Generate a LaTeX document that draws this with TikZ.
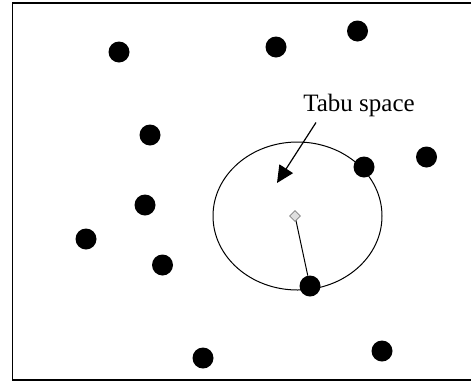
\documentclass[tikz,border=0pt]{standalone}
\usepackage{fontspec}
\setmainfont{Liberation Serif}
\usetikzlibrary{arrows.meta,shapes.geometric}

\begin{document}
\begin{tikzpicture}[x=1pt, y=-1pt,
  dot/.style={circle,fill=black,inner sep=0pt,minimum size=21pt},
  centre/.style={diamond,draw=gray,fill=gray!25,inner sep=0pt,minimum size=11pt,line width=0.8pt}]
  \useasboundingbox (0,0) rectangle (471,381);

  % frame (open on the right)
  \draw[line width=1.6pt] (471,3) -- (12.5,3) -- (12.5,380) -- (471,380);

  % solutions
  \foreach \n/\p in {1/{(119,52)},2/{(276,47)},3/{(357.5,31)},4/{(150,135)},
                     5/{(426.5,157)},6/{(364,167)},7/{(145,205)},8/{(86,239)},
                     9/{(162.5,265)},10/{(310,286)},11/{(203,358)},12/{(382,351)}}
    \node[dot] (d\n) at \p {};

  % tabu region around the current solution
  \draw[line width=1pt] (297.5,216) ellipse [x radius=84.5, y radius=74];
  \draw[line width=1pt] (295,216) -- (d10);
  \node[centre] (cur) at (295,216) {};

  % label
  \node[anchor=base,inner sep=0pt,font=\fontsize{25}{30}\selectfont] (lbl) at (359,111.5) {Tabu space};
  \coordinate (tail) at (316,122.5);
  \coordinate (tip) at (277,183);
  \draw[line width=1.2pt,-{Triangle[length=17pt,width=16pt]}] (tail) -- (tip);
\end{tikzpicture}
\end{document}
